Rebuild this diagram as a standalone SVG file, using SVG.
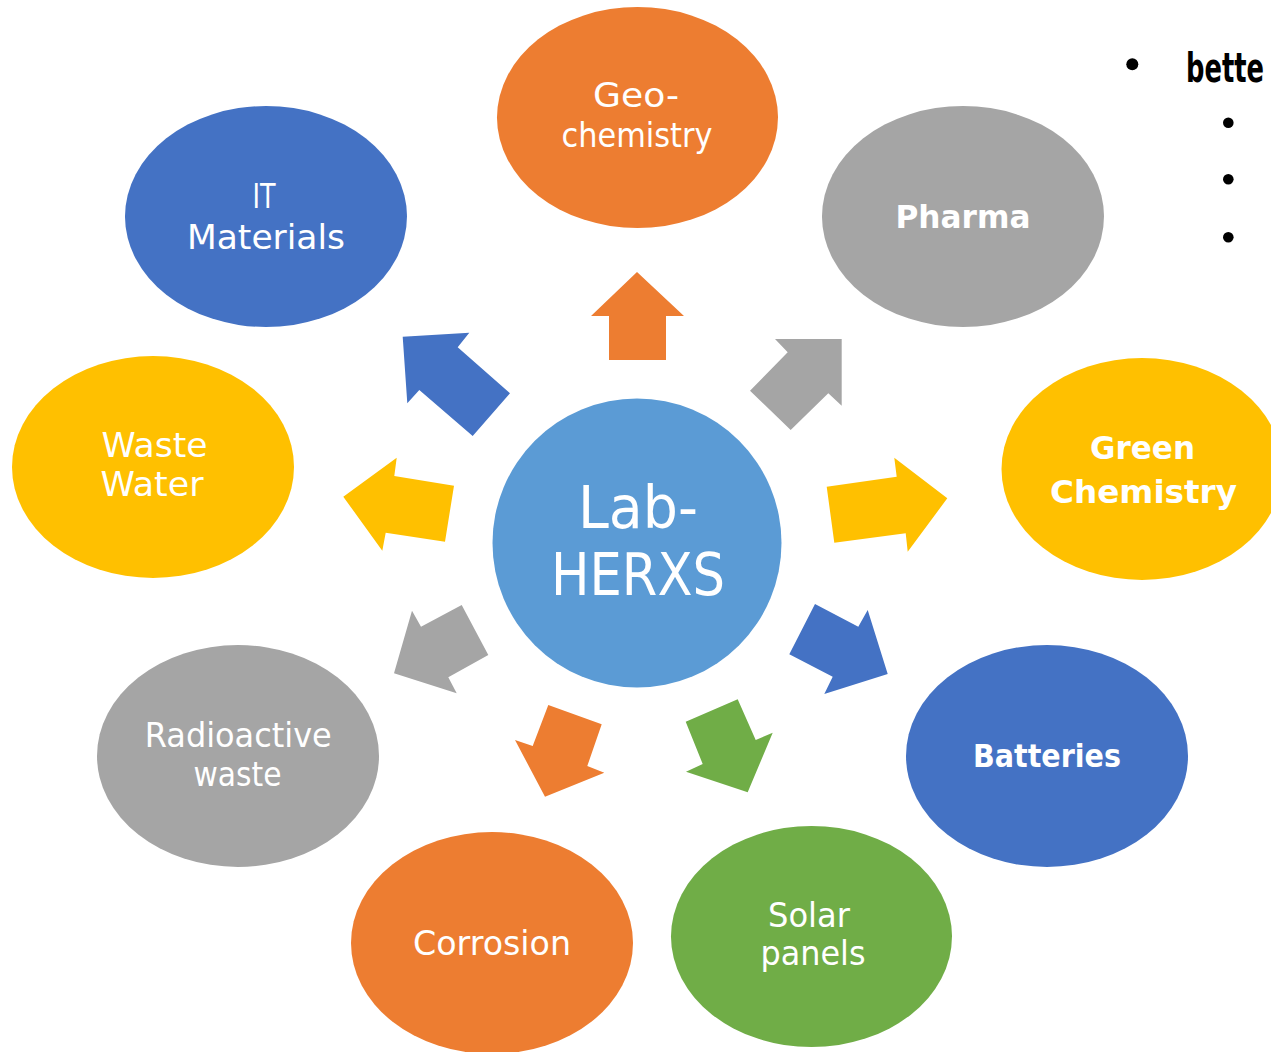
<svg xmlns="http://www.w3.org/2000/svg" width="1271" height="1052" viewBox="0 0 1271 1052">
<style>
.lbl{font-family:"DejaVu Sans","Liberation Sans",sans-serif;font-size:33px;fill:#ffffff;text-anchor:middle}
.b{font-weight:bold;font-size:32px}
.big{font-size:58px}
.orange{fill:#ED7D31}.gray{fill:#A5A5A5}.blue{fill:#4472C4}.yellow{fill:#FFC000}.green{fill:#70AD47}.center{fill:#5B9BD5}
.dot{fill:#000000}
</style>
<rect width="1271" height="1052" fill="#ffffff"/>
<g id="connectors">
<polygon class="orange" points="637,272 684,316 666,316 666,360 609,360 609,316 591,316"/>
<polygon class="blue" points="402.7,336.7 469.3,332.7 457.7,347.3 510,393.3 472.7,436 419.3,390 407.3,403.3"/>
<polygon class="gray" points="841.7,339 841.7,405.7 828.3,393.3 790.7,430 750,390.7 787.7,352.3 775,339"/>
<polygon class="yellow" points="947.3,498.3 907.7,551.7 905.7,533.3 834.3,542.7 826.7,486.7 896.7,476.7 894.3,457.7"/>
<polygon class="yellow" points="343.3,496.7 396.7,457.7 394.3,476 454,485.7 445,541.7 385.7,532.7 382.3,550.7"/>
<polygon class="blue" points="887.7,674 824.3,694 832.7,676.7 789.3,654.3 815,604 858.3,626.7 867.7,610"/>
<polygon class="gray" points="394,673.3 412,610.7 421,626.7 461.7,605 488.3,655 448.3,677.3 456.7,693.3"/>
<polygon class="orange" points="545,796.7 515,740 532.7,746 548.3,705 601.7,724.3 587.3,766 604.3,772.7"/>
<polygon class="green" points="747.7,792.3 686,771.7 702.7,764 685.7,721.7 737.7,699.3 755.7,740 772.7,732.7"/>
</g>
<g id="center">
<circle class="center" cx="637" cy="543" r="144.5"/>
<text class="lbl big" x="638" y="528" textLength="120" lengthAdjust="spacingAndGlyphs">Lab-</text>
<text class="lbl big" x="638" y="595" textLength="174" lengthAdjust="spacingAndGlyphs">HERXS</text>
</g>
<g id="geochemistry">
<ellipse class="orange" cx="637.5" cy="117.5" rx="140.5" ry="110.5"/>
<text class="lbl" x="636" y="107" textLength="86" lengthAdjust="spacingAndGlyphs">Geo-</text>
<text class="lbl" x="637" y="147" textLength="151" lengthAdjust="spacingAndGlyphs">chemistry</text>
</g>
<g id="pharma">
<ellipse class="gray" cx="963" cy="216.5" rx="141" ry="110.5"/>
<text class="lbl b" x="963" y="228" textLength="135" lengthAdjust="spacingAndGlyphs">Pharma</text>
</g>
<g id="it-materials">
<ellipse class="blue" cx="266" cy="216.5" rx="141" ry="110.5"/>
<text class="lbl" x="264" y="208" textLength="23" lengthAdjust="spacingAndGlyphs">IT</text>
<text class="lbl" x="266" y="249" textLength="158" lengthAdjust="spacingAndGlyphs">Materials</text>
</g>
<g id="green-chemistry">
<ellipse class="yellow" cx="1142" cy="469" rx="140.5" ry="111"/>
<text class="lbl b" x="1142.5" y="459" textLength="105" lengthAdjust="spacingAndGlyphs">Green</text>
<text class="lbl b" x="1143.5" y="503" textLength="187" lengthAdjust="spacingAndGlyphs">Chemistry</text>
</g>
<g id="waste-water">
<ellipse class="yellow" cx="153" cy="467" rx="141" ry="111"/>
<text class="lbl" x="154.5" y="457" textLength="106" lengthAdjust="spacingAndGlyphs">Waste</text>
<text class="lbl" x="152" y="496" textLength="103" lengthAdjust="spacingAndGlyphs">Water</text>
</g>
<g id="radioactive-waste">
<ellipse class="gray" cx="238" cy="756" rx="141" ry="111"/>
<text class="lbl" x="238.3" y="747" textLength="187" lengthAdjust="spacingAndGlyphs">Radioactive</text>
<text class="lbl" x="237.5" y="786" textLength="88" lengthAdjust="spacingAndGlyphs">waste</text>
</g>
<g id="batteries">
<ellipse class="blue" cx="1047" cy="756" rx="141" ry="111"/>
<text class="lbl b" x="1047" y="767" textLength="148" lengthAdjust="spacingAndGlyphs">Batteries</text>
</g>
<g id="corrosion">
<ellipse class="orange" cx="492" cy="943" rx="141" ry="111"/>
<text class="lbl" x="492" y="955" textLength="158" lengthAdjust="spacingAndGlyphs">Corrosion</text>
</g>
<g id="solar-panels">
<ellipse class="green" cx="811.5" cy="936.5" rx="140.5" ry="110.5"/>
<text class="lbl" x="809" y="927" textLength="82" lengthAdjust="spacingAndGlyphs">Solar</text>
<text class="lbl" x="813" y="965" textLength="105" lengthAdjust="spacingAndGlyphs">panels</text>
</g>
<g id="bullets">
<circle class="dot" cx="1132.3" cy="64.3" r="6"/>
<text x="1186" y="82" font-family="'DejaVu Sans Condensed','Liberation Sans Narrow','DejaVu Sans',sans-serif" font-weight="bold" font-size="40" fill="#000000" textLength="78" lengthAdjust="spacingAndGlyphs">bette</text>
<circle class="dot" cx="1228.3" cy="122.7" r="5.3"/>
<circle class="dot" cx="1228.3" cy="179.3" r="5.3"/>
<circle class="dot" cx="1228.3" cy="237.3" r="5.3"/>
</g>
</svg>
